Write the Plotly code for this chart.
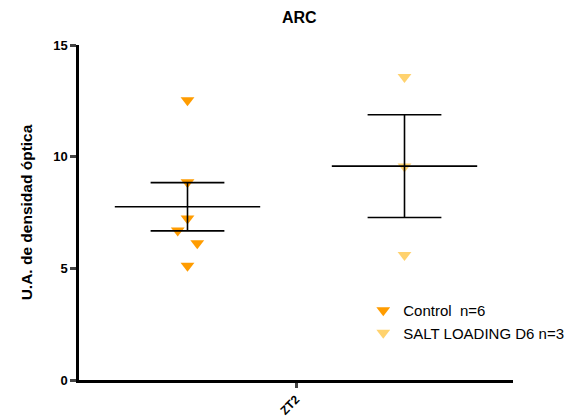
import numpy as np
import plotly.graph_objects as go

title = "ARC"
y_title = "U.A. de densidad óptica"
category = "ZT2"
groups = ["Control  n=6", "SALT LOADING D6 n=3"]
control_vals = [12.53, 8.86, 7.23, 6.69, 6.12, 5.12]
control_jitter = [0.0, 0.0, 0.0, -0.09, 0.09, 0.0]
salt_vals = [13.57, 9.56, 5.60]
salt_jitter = [0.0, 0.0, 0.0]
y_ticks = [0, 5, 10, 15]

colors = ["#FF9C00", "#FFD26E"]
group_pos = [-1.0, 1.0]
mean_half = 0.67
cap_half = 0.34

fig = go.Figure()
all_vals = [control_vals, salt_vals]
all_jit = [control_jitter, salt_jitter]

for name, vals, jit, pos, col in zip(groups, all_vals, all_jit, group_pos, colors):
    fig.add_trace(go.Scatter(
        x=[pos + j for j in jit], y=vals, mode="markers", name=name,
        marker=dict(symbol="triangle-down", size=12, color=col, line=dict(width=0)),
    ))
for vals, pos in zip(all_vals, group_pos):
    v = np.array(vals)
    m = v.mean()
    s = v.std(ddof=1) / np.sqrt(len(v))
    lx = [pos - mean_half, pos + mean_half, None,
          pos - cap_half, pos + cap_half, None,
          pos - cap_half, pos + cap_half, None,
          pos, pos]
    ly = [m, m, None, m + s, m + s, None, m - s, m - s, None, m - s, m + s]
    fig.add_trace(go.Scatter(x=lx, y=ly, mode="lines", showlegend=False,
                             line=dict(color="black", width=1.6), hoverinfo="skip"))

font = "Liberation Sans, Arial, sans-serif"
fig.update_layout(
    width=581, height=418,
    margin=dict(l=79, r=58, t=45, b=38),
    paper_bgcolor="white", plot_bgcolor="white",
    font=dict(family=font, color="black"),
    title=dict(text="<b>%s</b>" % title, x=0.515, xanchor="center", y=0.958, yanchor="middle",
               font=dict(size=16)),
    xaxis=dict(range=[-2, 2], tickvals=[0], ticktext=["<b>%s</b>" % category],
               tickangle=-45, ticks="outside", ticklen=5, tickwidth=2.5,
               showline=True, linecolor="black", linewidth=2.5, showgrid=False,
               zeroline=False, tickfont=dict(size=12), automargin=False),
    yaxis=dict(range=[0, 15], tickvals=y_ticks, ticktext=["<b>%d</b>" % t for t in y_ticks],
               ticks="outside", ticklen=6, tickwidth=2.5,
               showline=True, linecolor="black", linewidth=2.5, showgrid=False,
               zeroline=False, tickfont=dict(size=13), automargin=False,
               title=dict(text="<b>%s</b>" % y_title, font=dict(size=15.5), standoff=17)),
    legend=dict(x=0.655, y=0.257, xanchor="left", yanchor="top",
                font=dict(size=15), bgcolor="rgba(0,0,0,0)", tracegroupgap=0,
                itemsizing="constant"),
    showlegend=True,
)
fig.write_html("out.html")
